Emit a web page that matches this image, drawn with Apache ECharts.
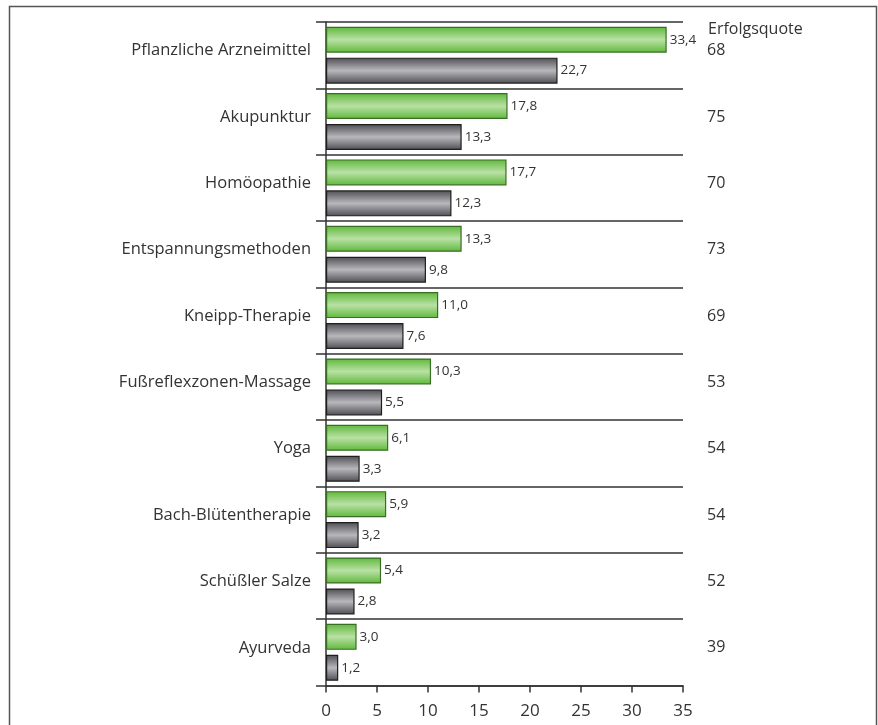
<!DOCTYPE html>
<html>
<head>
<meta charset="utf-8">
<script src="https://cdn.jsdelivr.net/npm/echarts@6/dist/echarts.min.js"></script>
<style>
  html, body { margin: 0; padding: 0; background: #fff; }
  #chart { width: 878px; height: 725px; }
</style>
</head>
<body>
<div id="chart"></div>
<script>
// Methods, listed top to bottom
const categories = [
  'Pflanzliche Arzneimittel', 'Akupunktur', 'Homöopathie', 'Entspannungsmethoden',
  'Kneipp-Therapie', 'Fußreflexzonen-Massage', 'Yoga', 'Bach-Blütentherapie',
  'Schüßler Salze', 'Ayurveda'
];
// Green bars
const greenValues = [33.4, 17.8, 17.7, 13.3, 11.0, 10.3, 6.1, 5.9, 5.4, 3.0];
// Gray bars
const grayValues = [22.7, 13.3, 12.3, 9.8, 7.6, 5.5, 3.3, 3.2, 2.8, 1.2];
// Erfolgsquote column on the right
const successRates = [68, 75, 70, 73, 69, 53, 54, 54, 52, 39];
const xTicks = [0, 5, 10, 15, 20, 25, 30, 35];

const FONT = '"Open Sans", "Noto Sans", sans-serif';
const fmt = v => v.toFixed(1).replace('.', ',');

const greenFill = new echarts.graphic.LinearGradient(0, 0, 0, 1, [
  { offset: 0, color: '#5fb83c' },
  { offset: 0.5, color: '#b9e1a4' },
  { offset: 1, color: '#5fb83c' }
]);
const grayFill = new echarts.graphic.LinearGradient(0, 0, 0, 1, [
  { offset: 0, color: '#4e4d53' },
  { offset: 0.5, color: '#b8b7bc' },
  { offset: 1, color: '#4e4d53' }
]);

const chart = echarts.init(document.getElementById('chart'), null, { renderer: 'canvas' });

const labelCommon = {
  show: true,
  position: 'right',
  distance: 3,
  color: '#333',
  fontSize: 13.5,
  fontFamily: FONT,
  formatter: p => fmt(p.value)
};

chart.setOption({
  animation: false,
  backgroundColor: '#fff',
  graphic: [{
    type: 'rect',
    shape: { x: 9.5, y: 6.5, width: 867, height: 740 },
    style: { fill: 'none', stroke: '#555', lineWidth: 1.5 },
    silent: true
  }],
  grid: { left: 326, right: 195, top: 22, bottom: 39.5, containLabel: false },
  xAxis: {
    type: 'value',
    min: xTicks[0],
    max: xTicks[xTicks.length - 1],
    interval: 5,
    axisLine: { show: true, lineStyle: { color: '#333', width: 1.5 } },
    axisTick: { show: true, length: 7, lineStyle: { color: '#333', width: 1.5 } },
    axisLabel: { color: '#333', fontSize: 17, fontFamily: FONT, margin: 17 },
    splitLine: { show: false }
  },
  yAxis: [{
    type: 'category',
    data: categories,
    inverse: true,
    axisLine: { show: true, lineStyle: { color: '#333', width: 1.5 } },
    axisTick: { show: true, length: 10, lineStyle: { color: '#333', width: 1.5 } },
    splitLine: { show: true, lineStyle: { color: '#333', width: 1.5 } },
    axisLabel: {
      color: '#333', fontSize: 16.5, fontFamily: FONT, margin: 15,
      verticalAlign: 'bottom', lineHeight: 9
    }
  }, {
    type: 'category',
    data: successRates.map(String),
    inverse: true,
    position: 'right',
    name: 'Erfolgsquote',
    nameLocation: 'start',
    nameGap: -15,
    nameTextStyle: { color: '#333', fontSize: 16, fontFamily: FONT, align: 'left', padding: [0, 0, 0, 25] },
    axisLine: { show: false },
    axisTick: { show: false },
    splitLine: { show: false },
    axisLabel: {
      color: '#333', fontSize: 16, fontFamily: FONT, margin: 24, align: 'left',
      verticalAlign: 'bottom', lineHeight: 9
    }
  }],
  series: [{
    type: 'bar',
    data: greenValues,
    barWidth: 26,
    barGap: '19%',
    itemStyle: { color: greenFill, borderColor: '#3a6e25', borderWidth: 1.2 },
    label: labelCommon
  }, {
    type: 'bar',
    data: grayValues,
    barWidth: 26,
    itemStyle: { color: grayFill, borderColor: '#1e1e1e', borderWidth: 1.2 },
    label: labelCommon
  }]
});
</script>
</body>
</html>
